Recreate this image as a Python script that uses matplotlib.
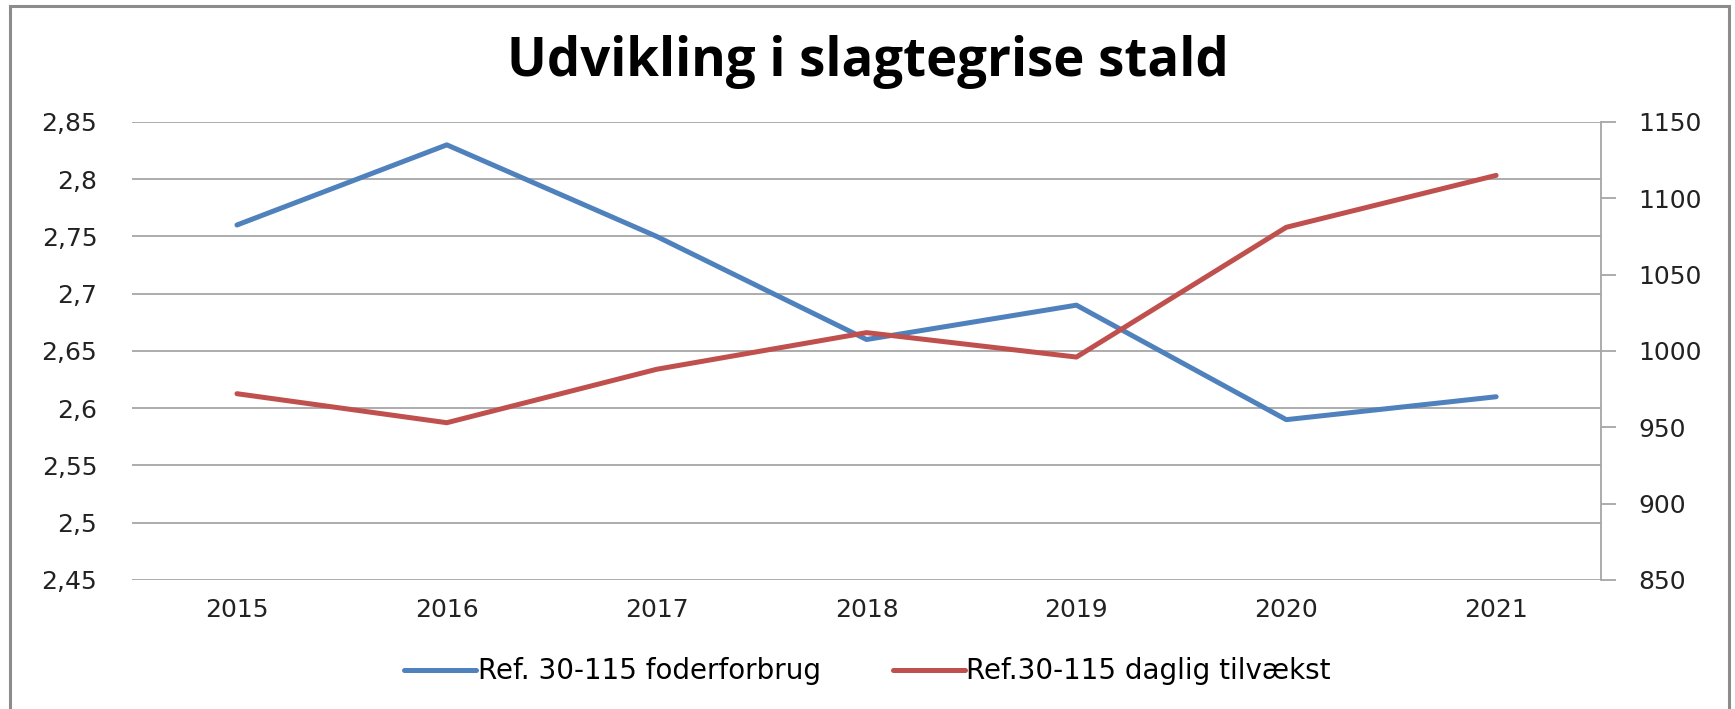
import matplotlib
matplotlib.use("Agg")
import matplotlib.pyplot as plt
from matplotlib.patches import Rectangle

# data
years = ["2015", "2016", "2017", "2018", "2019", "2020", "2021"]
foderforbrug = [2.76, 2.83, 2.75, 2.66, 2.69, 2.59, 2.61]
tilvaekst = [972, 953, 988, 1012, 996, 1081, 1115]

left_ticks = [2.45, 2.5, 2.55, 2.6, 2.65, 2.7, 2.75, 2.8, 2.85]
right_ticks = [850, 900, 950, 1000, 1050, 1100, 1150]

BLUE = "#4F81BD"
RED = "#C0504D"
GRID = "#a6a6a6"

plt.rcParams['font.family'] = ['DejaVu Sans']

fig = plt.figure(figsize=(17.35, 7.09), dpi=100)
ax = fig.add_axes([0.0761, 0.182, 0.8467, 0.646])
ax2 = ax.twinx()

x = list(range(len(years)))
ax.plot(x, foderforbrug, color=BLUE, lw=3.6, solid_capstyle='round',
        label='Ref. 30-115 foderforbrug', zorder=3)
ax2.plot(x, tilvaekst, color=RED, lw=3.6, solid_capstyle='round',
         label='Ref.30-115 daglig tilvækst', zorder=3)

ax.set_xlim(-0.5, len(years) - 0.5)
ax.set_ylim(2.45, 2.85)
ax.set_yticks(left_ticks)
ax.set_yticklabels([("%g" % v).replace('.', ',') for v in left_ticks])
ax.set_xticks(x)
ax.set_xticklabels(years)
ax.grid(axis='y', color=GRID, lw=1.3)
ax.set_axisbelow(True)
ax.tick_params(axis='y', length=0, pad=25, labelsize=18, colors='#222222')
ax.tick_params(axis='x', length=0, pad=13, labelsize=18, colors='#222222')
for s in ['top', 'left', 'right', 'bottom']:
    ax.spines[s].set_visible(False)

ax2.set_ylim(850, 1150)
ax2.set_yticks(right_ticks)
ax2.tick_params(axis='y', length=11, width=1.3, color=GRID, pad=16,
                labelsize=18, labelcolor='#222222')
for s in ['top', 'left', 'bottom']:
    ax2.spines[s].set_visible(False)
ax2.spines['right'].set_color(GRID)
ax2.spines['right'].set_linewidth(1.3)

fig.text(0.5, 0.912, 'Udvikling i slagtegrise stald', ha='center', va='center',
         fontsize=38, fontweight='bold', family=['Open Sans', 'DejaVu Sans'])

h1, l1 = ax.get_legend_handles_labels()
h2, l2 = ax2.get_legend_handles_labels()
fig.legend(h1 + h2, l1 + l2, loc='center', bbox_to_anchor=(0.5, 0.053),
           ncol=2, frameon=False, fontsize=20, handlelength=2.6,
           handletextpad=0.05, columnspacing=2.6)

# outer chart border
fig.patches.append(Rectangle((10 / 1735, -0.02), 1719 / 1735, 1.02 - 6 / 709,
                             transform=fig.transFigure, fill=False,
                             edgecolor='#8c8c8c', lw=2.2))

fig.savefig('out.png', dpi=100)
